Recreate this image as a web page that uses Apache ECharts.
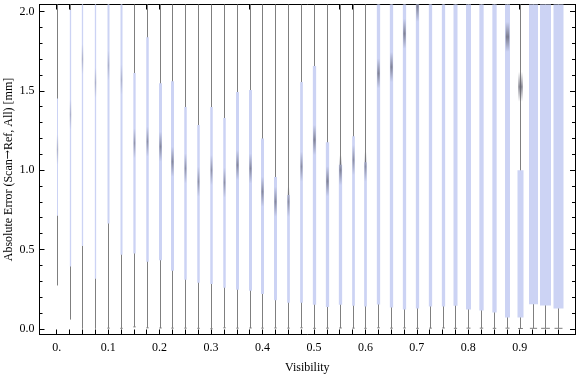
<!DOCTYPE html>
<html>
<head>
<meta charset="utf-8">
<script src="https://cdn.jsdelivr.net/npm/echarts@6/dist/echarts.min.js"></script>
<style>html,body{margin:0;padding:0;background:#fff;}#c{width:576px;height:375px;}</style>
</head>
<body>
<div id="c"></div>
<script>
// ---- data ----
var positions = [0,0.025,0.05,0.075,0.1,0.125,0.15,0.175,0.2,0.225,0.25,0.275,0.3,0.325,0.35,0.375,0.4,0.425,0.45,0.475,0.5,0.525,0.55,0.575,0.6,0.625,0.65,0.675,0.7,0.725,0.75,0.775,0.8,0.825,0.85,0.875,0.9,0.925,0.95,0.975];
var whiskerLow = [0.273,0.058,0.0,0.0,0.004,0.003,0.012,0.006,0.005,0.004,0.004,0.003,0.0,0.006,0.004,0.005,0.004,0.005,0.004,0.006,0.003,0.004,0.005,0.004,0.003,0.006,0.004,0.005,0.003,0.004,0.005,0.003,0.004,0.004,0.003,0.004,0.002,0.003,0.003,0.003];
var whiskerHigh = [2.6,2.6,2.6,2.6,2.6,2.6,2.6,2.6,2.6,2.6,2.6,2.6,2.6,2.6,2.6,2.6,2.6,2.6,2.6,2.6,2.6,2.6,2.6,2.6,2.6,2.6,2.6,2.6,2.6,2.6,2.6,2.6,2.6,2.6,2.6,2.6,2.6,2.6,2.6,2.6];
var boxLow = [0.712,0.392,0.522,0.316,0.663,0.467,0.475,0.422,0.432,0.366,0.309,0.29,0.283,0.258,0.246,0.239,0.22,0.18,0.164,0.164,0.151,0.138,0.151,0.145,0.14,0.153,0.134,0.122,0.128,0.14,0.14,0.145,0.122,0.115,0.103,0.071,0.071,0.155,0.147,0.128];
var boxHigh = [1.452,2.01,2.2,2.2,2.2,2.2,1.612,1.838,1.547,1.561,1.398,1.284,1.398,1.328,1.492,1.505,1.2,0.957,0.844,1.555,1.656,1.175,1.034,1.213,1.049,2.3,2.3,2.3,2.3,2.3,2.3,2.3,2.3,2.3,2.3,2.3,0.999,2.3,2.3,2.3];
var medians = [1.13,1.35,1.7,1.55,1.66,1.57,1.17,1.18,1.148,1.053,1.011,0.927,1.0,0.921,1.032,1.01,0.864,0.801,0.8,1.022,1.19,0.93,1.0,1.064,1.022,1.61,1.65,1.86,2.03,2.2,2.2,2.2,2.2,2.2,2.2,1.84,1.525,2.2,2.2,2.2];
var relCount = [1,1.3,1.3,1.3,2,2,2.3,2.5,3,3,2.5,2.5,2.5,2.5,3,3,3,3,2.7,2.7,3.3,3.3,3.3,2.7,2.7,3.3,3.3,3.3,3.3,3.3,3.3,4,5,4.3,4.3,5,6,9,11,10];
var xLabelValues = [0,0.1,0.2,0.3,0.4,0.5,0.6,0.7,0.8,0.9];
var yMajorValues = [0,0.5,1.0,1.5,2.0];
var yMinorValues = [0.1,0.2,0.3,0.4,0.6,0.7,0.8,0.9,1.1,1.2,1.3,1.4,1.6,1.7,1.8,1.9];

var data = positions.map(function (p, i) {
  return [p, whiskerLow[i], boxLow[i], medians[i], boxHigh[i], whiskerHigh[i], relCount[i]];
});

var FONT = 'Liberation Serif';
var XMIN = -0.0334, XMAX = 1.0074, YMIN = -0.036, YMAX = 2.044;

function renderItem(params, api) {
  var x = api.value(0);
  var w = api.value(6);
  var pLow = api.coord([x, api.value(1)]);
  var pHigh = api.coord([x, api.value(5)]);
  var pQ1 = api.coord([x, api.value(2)]);
  var pQ3 = api.coord([x, api.value(4)]);
  var pMed = api.coord([x, api.value(3)]);
  var cx = Math.round(pLow[0]) + 0.5;
  var capW = w < 1.5 ? 0 : Math.max(1.2, w * 0.4);
  var spotW = Math.max(1.6, w * 0.75);
  var spotA = w < 2.2 ? 0.3 : Math.min(0.75, 0.2 + w * 0.15);
  var children = [
    {type: 'line', shape: {x1: cx, y1: pLow[1], x2: cx, y2: pHigh[1]},
     style: {stroke: '#7f7f7f', lineWidth: 1}},
    {type: 'rect', shape: {x: cx - w / 2, y: pQ3[1], width: w, height: pQ1[1] - pQ3[1]},
     style: {fill: '#ccd3f4'}},
    {type: 'rect', shape: {x: cx - spotW / 2, y: pMed[1] - 15, width: spotW, height: 30},
     style: {fill: new echarts.graphic.LinearGradient(0, 0, 0, 1, [
       {offset: 0, color: 'rgba(95,95,110,0)'},
       {offset: 0.5, color: 'rgba(95,95,110,' + spotA + ')'},
       {offset: 1, color: 'rgba(95,95,110,0)'}
     ])}}
  ];
  if (capW > 0) {
    children.push({type: 'line', shape: {x1: cx - capW, y1: pLow[1], x2: cx + capW, y2: pLow[1]},
      style: {stroke: '#7f7f7f', lineWidth: 1}});
  }
  return {type: 'group', children: children};
}

function xAxisBase(pos) {
  return {
    type: 'value', min: XMIN, max: XMAX, position: pos,
    axisLine: {show: true, onZero: false, lineStyle: {color: '#000', width: 1}},
    axisTick: {show: true, inside: true, length: 5, customValues: positions, lineStyle: {color: '#000'}},
    axisLabel: {show: false},
    splitLine: {show: false}
  };
}
function yAxisBase(pos, major) {
  return {
    type: 'value', min: YMIN, max: YMAX, position: pos,
    axisLine: {show: true, onZero: false, lineStyle: {color: '#000', width: 1}},
    axisTick: {show: true, inside: true, length: major ? 5 : 3,
      customValues: major ? yMajorValues : yMinorValues, lineStyle: {color: '#000'}},
    axisLabel: {show: false},
    splitLine: {show: false}
  };
}

var xBottom = xAxisBase('bottom');
xBottom.axisLabel = {show: true, customValues: xLabelValues, margin: 7,
  fontFamily: FONT, fontSize: 12, color: '#000',
  formatter: function (v) { return Math.abs(v) < 1e-9 ? '0.' : v.toFixed(1); }};
xBottom.name = 'Visibility';
xBottom.nameLocation = 'middle';
xBottom.nameGap = 27;
xBottom.nameMoveOverlap = false;
xBottom.nameTextStyle = {fontFamily: FONT, fontSize: 12, color: '#000'};

var yLeft = yAxisBase('left', true);
yLeft.axisLabel = {show: true, customValues: yMajorValues, margin: 5,
  fontFamily: FONT, fontSize: 12, color: '#000',
  formatter: function (v) { return v.toFixed(1); }};
yLeft.name = 'Absolute Error (Scan{arr|\u2192}Ref, All) [mm]';
yLeft.nameLocation = 'middle';
yLeft.nameGap = 25;
yLeft.nameMoveOverlap = false;
yLeft.nameTextStyle = {fontFamily: FONT, fontSize: 12, color: '#000',
  rich: {arr: {fontFamily: 'DejaVu Serif', fontSize: 11, color: '#000'}}};

var option = {
  animation: false,
  backgroundColor: '#fff',
  grid: {left: 39.5, right: 1, top: 4.5, bottom: 40.5, containLabel: false, outerBoundsMode: 'none'},
  xAxis: [xBottom, xAxisBase('top')],
  yAxis: [yLeft, yAxisBase('left', false), yAxisBase('right', true), yAxisBase('right', false)],
  series: [{
    type: 'custom',
    xAxisIndex: 0, yAxisIndex: 0,
    clip: true,
    renderItem: renderItem,
    encode: {x: 0, y: [1, 5]},
    data: data
  }]
};

var chart = echarts.init(document.getElementById('c'), null, {renderer: 'canvas'});
chart.setOption(option);
</script>
</body>
</html>
